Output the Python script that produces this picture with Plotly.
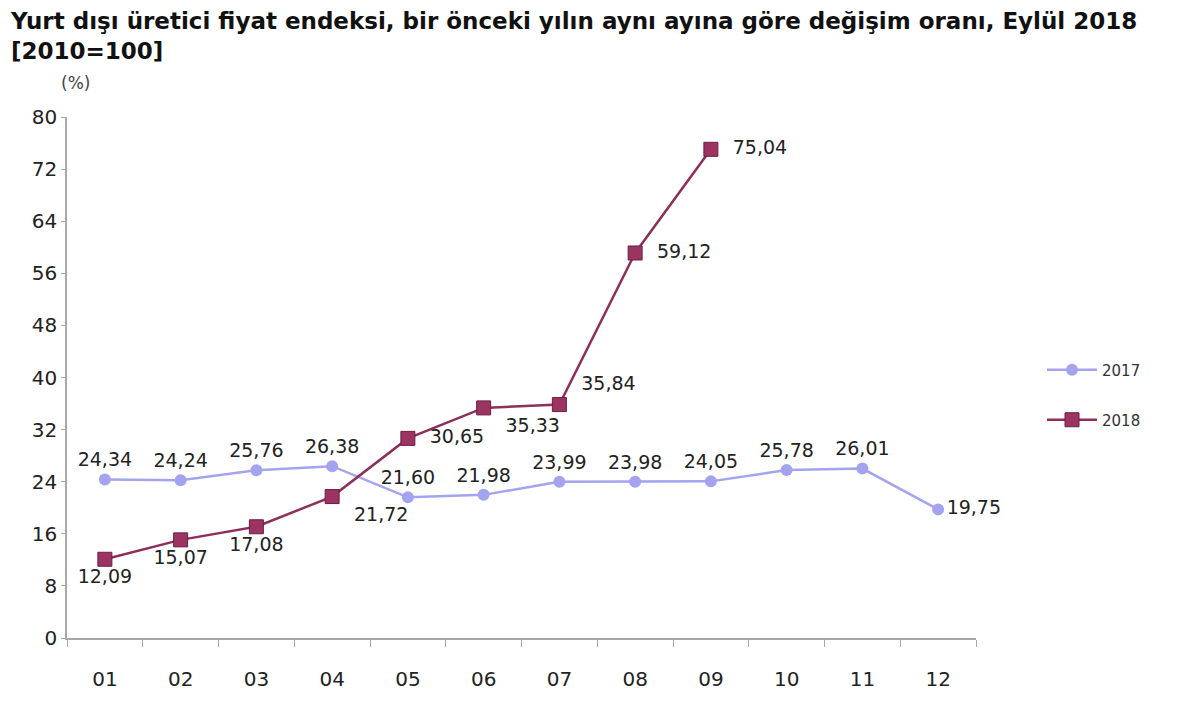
import plotly.graph_objects as go

months = ["01", "02", "03", "04", "05", "06", "07", "08", "09", "10", "11", "12"]
y2017 = [24.34, 24.24, 25.76, 26.38, 21.60, 21.98, 23.99, 23.98, 24.05, 25.78, 26.01, 19.75]
y2018 = [12.09, 15.07, 17.08, 21.72, 30.65, 35.33, 35.84, 59.12, 75.04]
y_ticks = [0, 8, 16, 24, 32, 40, 48, 56, 64, 72, 80]

pos2017 = ["top center"] * 11 + ["middle right"]
pos2018 = ["bottom center", "bottom center", "bottom center", "bottom right",
           "middle right", "bottom right", "top right", "middle right", "middle right"]

FONT = "DejaVu Sans"
TITLE = "Yurt dışı üretici fiyat endeksi, bir önceki yılın aynı ayına göre değişim oranı, Eylül 2018<br>[2010=100]"


def fmt(v):
    return f"{v:.2f}".replace(".", ",")


fig = go.Figure()
fig.add_trace(go.Scatter(x=months, y=y2017, name="2017", mode="lines+markers+text",
                         line=dict(color="#a3a3f0", width=2.5),
                         marker=dict(symbol="circle", size=12, color="#a3a3f0"),
                         text=[fmt(v) for v in y2017], textposition=pos2017,
                         textfont=dict(size=19, color="#222222"), cliponaxis=False,
                         legend="legend"))
fig.add_trace(go.Scatter(x=months[:len(y2018)], y=y2018, name="2018", mode="lines+markers+text",
                         line=dict(color="#8e2f5a", width=2.5),
                         marker=dict(symbol="square", size=14, color="#9b3363",
                                     line=dict(color="#6e1f44", width=1)),
                         text=["  " + fmt(v) + "  " for v in y2018], textposition=pos2018,
                         textfont=dict(size=19, color="#222222"), cliponaxis=False,
                         legend="legend2"))

legend_style = dict(x=(1042 - 67) / 909, xanchor="left", yanchor="middle",
                    font=dict(size=15, color="#333333", family=FONT), itemwidth=50,
                    bgcolor="rgba(0,0,0,0)")

fig.update_layout(
    width=1200, height=707,
    margin=dict(l=59, r=232, t=109, b=77),
    plot_bgcolor="white", paper_bgcolor="white",
    showlegend=True,
    font=dict(family=FONT, size=17, color="#222222"),
    legend=dict(y=(638 - 370) / 521, **legend_style),
    legend2=dict(y=(638 - 420) / 521, **legend_style),
    annotations=[
        dict(text=TITLE, x=(8 - 67) / 909, y=(638 - 6) / 521, xref="paper", yref="paper",
             xanchor="left", yanchor="top", align="left", showarrow=False,
             font=dict(size=23, color="#111111", family=FONT, weight="bold")),
        dict(text="(%)", x=(75 - 67) / 909, y=(638 - 83) / 521, xref="paper", yref="paper",
             xanchor="center", yanchor="middle", showarrow=False,
             font=dict(size=17, color="#444444", family=FONT)),
    ],
)

fig.update_xaxes(type="category", range=[-0.5, 11.5], showline=True, linecolor="#a8a8a8", linewidth=1.5,
                 ticks="outside", tickson="boundaries", ticklen=7, tickcolor="#a8a8a8",
                 ticklabelstandoff=22, showgrid=False, tickfont=dict(size=20, color="#222222"))
fig.update_yaxes(range=[0, 80], tickvals=y_ticks, showline=True, linecolor="#a8a8a8", linewidth=1.5,
                 ticks="outside", ticklen=4, tickcolor="#a8a8a8", showgrid=False, zeroline=False,
                 tickfont=dict(size=20, color="#222222"))

fig.write_html("out.html")
